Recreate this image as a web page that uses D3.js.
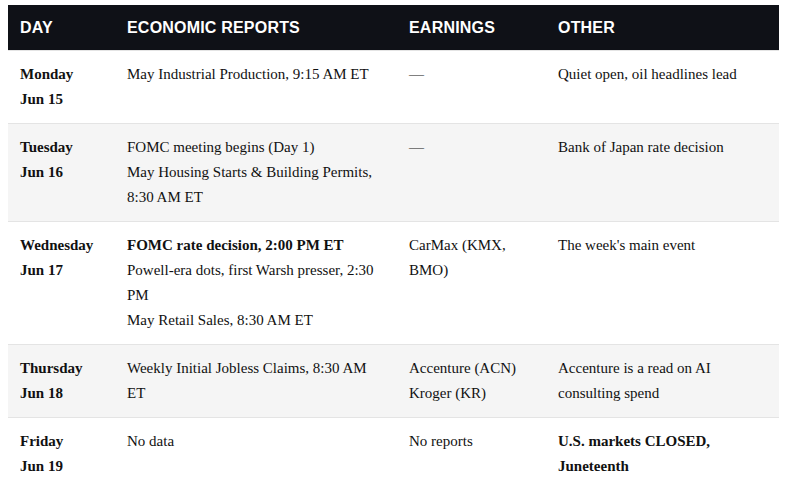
<!DOCTYPE html>
<html><head><meta charset="utf-8">
<script src="https://cdn.jsdelivr.net/npm/d3@7"></script>
<style>
body{margin:0;background:#fff;}
table{position:absolute;left:8px;top:5px;width:771px;border-collapse:collapse;table-layout:fixed;}
th{background:#0f1117;color:#fff;font:bold 16px "Liberation Sans",Arial,sans-serif;text-align:left;height:45px;padding:0 12px;letter-spacing:0.2px;}
td{font:15px "Liberation Serif","Times New Roman",serif;line-height:25px;color:#111;vertical-align:top;padding:11px 12px;border-top:1px solid #e4e4e4;}
tbody tr:nth-child(even) td{background:#f5f5f5;}
td.day{font-weight:bold;}
.b{font-weight:bold;}
</style></head><body>
<script>
const headers = ["DAY", "ECONOMIC REPORTS", "EARNINGS", "OTHER"];
const colWidths = [107, 282, 149, 233];
const days = ["Monday", "Tuesday", "Wednesday", "Thursday", "Friday"];
const dates = ["Jun 15", "Jun 16", "Jun 17", "Jun 18", "Jun 19"];
const econ = [
  [["May Industrial Production, 9:15 AM ET", false]],
  [["FOMC meeting begins (Day 1)", false], ["May Housing Starts & Building Permits, 8:30 AM ET", false]],
  [["FOMC rate decision, 2:00 PM ET", true], ["Powell-era dots, first Warsh presser, 2:30 PM", false], ["May Retail Sales, 8:30 AM ET", false]],
  [["Weekly Initial Jobless Claims, 8:30 AM ET", false]],
  [["No data", false]]
];
const earnings = [["—"], ["—"], ["CarMax (KMX, BMO)"], ["Accenture (ACN)", "Kroger (KR)"], ["No reports"]];
const other = [
  ["Quiet open, oil headlines lead", false],
  ["Bank of Japan rate decision", false],
  ["The week's main event", false],
  ["Accenture is a read on AI consulting spend", false],
  ["U.S. markets CLOSED, Juneteenth", true]
];

const table = d3.select("body").append("table");
table.append("colgroup").selectAll("col").data(colWidths).join("col").style("width", d => d + "px");
table.append("thead").append("tr").selectAll("th").data(headers).join("th").text(d => d);
const rows = table.append("tbody").selectAll("tr").data(days).join("tr");
rows.append("td").attr("class", "day").html((d, i) => d + "<br>" + dates[i]);
rows.append("td").selectAll("div").data((d, i) => econ[i]).join("div")
  .classed("b", d => d[1]).text(d => d[0]);
rows.append("td").selectAll("div").data((d, i) => earnings[i]).join("div").text(d => d);
rows.append("td").append("div").classed("b", (d, i) => other[i][1]).text((d, i) => other[i][0]);
</script>
</body></html>
